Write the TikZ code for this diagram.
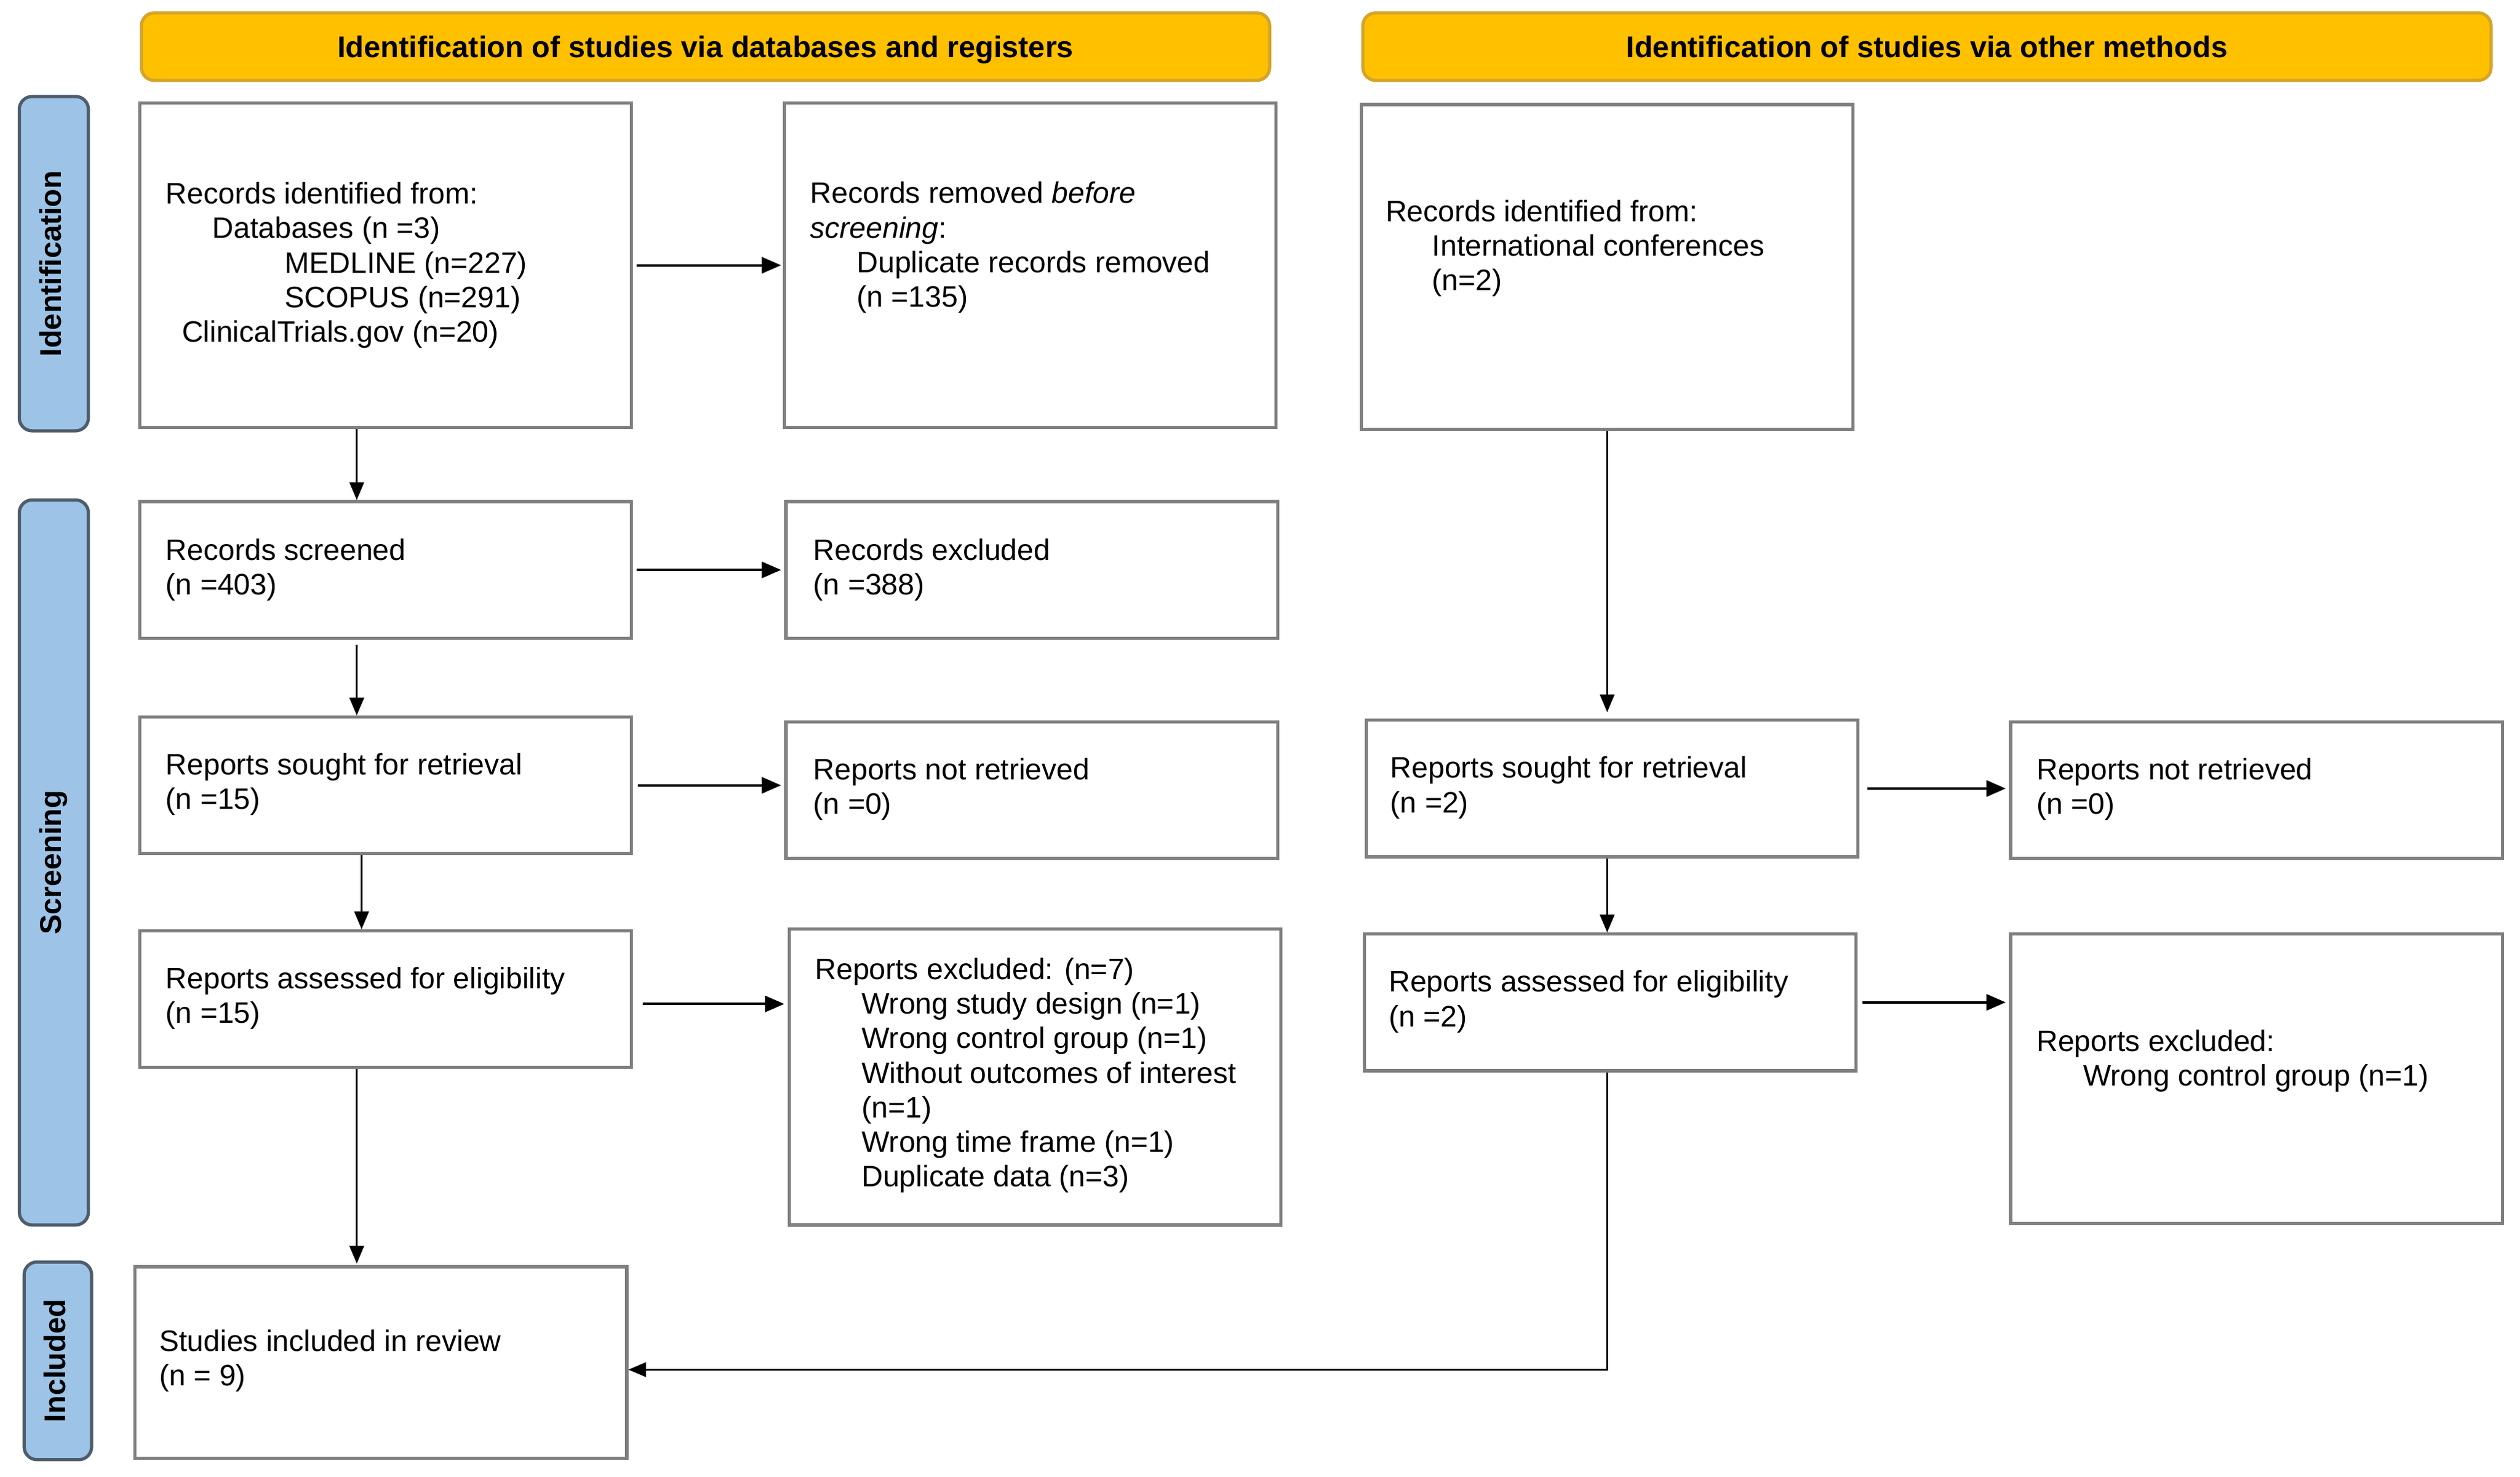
\documentclass[tikz,border=0pt]{standalone}
\usepackage{fontspec}
\setmainfont{Liberation Sans}
\usetikzlibrary{arrows.meta,calc}
\definecolor{gold}{HTML}{FFC000}
\definecolor{goldline}{HTML}{D4A52A}
\definecolor{sideblue}{HTML}{9DC3E6}
\definecolor{sideline}{HTML}{4E5D6C}
\definecolor{boxgray}{HTML}{7F7F7F}
\begin{document}
\begin{tikzpicture}[x=1pt,y=-1pt,
  box/.style={draw=boxgray, line width=2pt, fill=white, inner sep=0pt, anchor=north west},
  txt/.style={font=\fontsize{18.4}{21.5}\selectfont, align=left, inner sep=0pt, anchor=west},
  hdr/.style={draw=goldline, fill=gold, line width=2pt, rounded corners=8pt, inner sep=0pt,
    text height=17.3pt, text depth=3.9pt,
    font=\fontsize{18.6}{21.5}\selectfont\bfseries},
  side/.style={draw=sideline, fill=sideblue, line width=2pt, rounded corners=8pt, inner sep=0pt,
    rotate=90, text height=13.3pt, text depth=3.9pt,
    font=\fontsize{18.6}{21.5}\selectfont\bfseries},
  arr/.style={draw=black, line width=1.1pt, -{Triangle[length=11pt,width=9pt]}},
  harr/.style={arr, line width=1.5pt, -{Triangle[length=12pt,width=10pt]}}
]
\useasboundingbox (0,0) rectangle (1568,918.77);

% headers
\node[hdr, minimum width=702, minimum height=42] (h1) at (439,29) {Identification of studies via databases and registers};
\node[hdr, minimum width=702, minimum height=42] (h2) at (1199,29) {Identification of studies via other methods};

% side labels
\node[side, minimum width=208, minimum height=43] (s1) at (33.5,164) {Identification};
\node[side, minimum width=451, minimum height=43] (s2) at (33.5,536.5) {Screening};
\node[side, minimum width=123, minimum height=42] (s3) at (36,846.5) {Included};

% left column boxes
\node[box, minimum width=306, minimum height=202] (b1) at (86,63) {};
\node[box, minimum width=306, minimum height=202] (b2) at (487,63) {};
\node[box, minimum width=306, minimum height=85] (b3) at (86,311) {};
\node[box, minimum width=306, minimum height=85] (b4) at (488,311) {};
\node[box, minimum width=306, minimum height=85] (b5) at (86,445) {};
\node[box, minimum width=306, minimum height=85] (b6) at (488,448) {};
\node[box, minimum width=306, minimum height=85] (b7) at (86,578) {};
\node[box, minimum width=306, minimum height=184] (b8) at (490,577) {};
\node[box, minimum width=306, minimum height=119] (b9) at (83,787) {};

% right column boxes
\node[box, minimum width=306, minimum height=202] (c1) at (846,64) {};
\node[box, minimum width=306, minimum height=85] (c2) at (849,447) {};
\node[box, minimum width=306, minimum height=85] (c3) at (1250,448) {};
\node[box, minimum width=306, minimum height=85] (c4) at (848,580) {};
\node[box, minimum width=306, minimum height=180] (c5) at (1250,580) {};

% texts
\node[txt] (b1t) at (103,165) {Records identified from:\\\hspace*{29pt}Databases (n =3)\\\hspace*{74pt}MEDLINE (n=227)\\\hspace*{74pt}SCOPUS (n=291)\\\hspace*{10pt}ClinicalTrials.gov (n=20)};
\node[txt] (b2t) at (504,154) {Records removed \textit{before}\\\textit{screening}:\\\hspace*{29pt}Duplicate records removed\\\hspace*{29pt}(n =135)};
\node[txt] (b3t) at (103,354.5) {Records screened\\(n =403)};
\node[txt] (b4t) at (506,354.5) {Records excluded\\(n =388)};
\node[txt] (b5t) at (103,488) {Reports sought for retrieval\\(n =15)};
\node[txt] (b6t) at (506,491) {Reports not retrieved\\(n =0)};
\node[txt] (b7t) at (103,621) {Reports assessed for eligibility\\(n =15)};
\node[txt] (b8t) at (507,669) {Reports excluded: (n=7)\\\hspace*{29pt}Wrong study design (n=1)\\\hspace*{29pt}Wrong control group (n=1)\\\hspace*{29pt}Without outcomes of interest\\\hspace*{29pt}(n=1)\\\hspace*{29pt}Wrong time frame (n=1)\\\hspace*{29pt}Duplicate data (n=3)};
\node[txt] (b9t) at (99,846.5) {Studies included in review\\(n = 9)};
\node[txt] (c1t) at (862,154.5) {Records identified from:\\\hspace*{29pt}International conferences\\\hspace*{29pt}(n=2)};
\node[txt] (c2t) at (865,490) {Reports sought for retrieval\\(n =2)};
\node[txt] (c3t) at (1267,491) {Reports not retrieved\\(n =0)};
\node[txt] (c4t) at (864,623) {Reports assessed for eligibility\\(n =2)};
\node[txt] (c5t) at (1267,660) {Reports excluded:\\\hspace*{29pt}Wrong control group (n=1)};

% connectors
\coordinate (lx) at (222,0);
\coordinate (lx2) at (225,0);
\draw[harr, shorten <=2pt, shorten >=1pt] (b1.east) -- (b2.west);
\draw[arr] (b1.south -| lx) -- (b3.north -| lx);
\draw[harr, shorten <=2pt, shorten >=2pt] (b3.east) -- (b4.west |- b3.east);
\draw[arr, shorten <=3pt] (b3.south -| lx) -- (b5.north -| lx);
\draw[harr, shorten <=3pt, shorten >=2pt] (b5.east) -- (b6.west |- b5.east);
\draw[arr] (b5.south -| lx2) -- (b7.north -| lx2);
\draw[harr, shorten <=6pt, shorten >=2pt] ($(b7.east)+(0,3)$) -- (b8.west |- {$(b7.east)+(0,3)$});
\draw[arr, shorten >=1pt] (b7.south -| lx) -- (b9.north -| lx);
\draw[arr, shorten >=4pt] (c1.south) -- (c2.north -| c1.south);
\draw[harr, shorten <=5pt, shorten >=2pt] (c2.east) -- (c3.west |- c2.east);
\draw[arr] (c2.south -| c1.south) -- (c4.north -| c1.south);
\draw[harr, shorten <=3pt, shorten >=2pt] (c4.east) -- (c5.west |- c4.east);
\draw[arr, line width=1.3pt] (c4.south -| c1.south) -- ++(0,185) -- (b9.east |- {$(c4.south)+(0,185)$});
\end{tikzpicture}
\end{document}
